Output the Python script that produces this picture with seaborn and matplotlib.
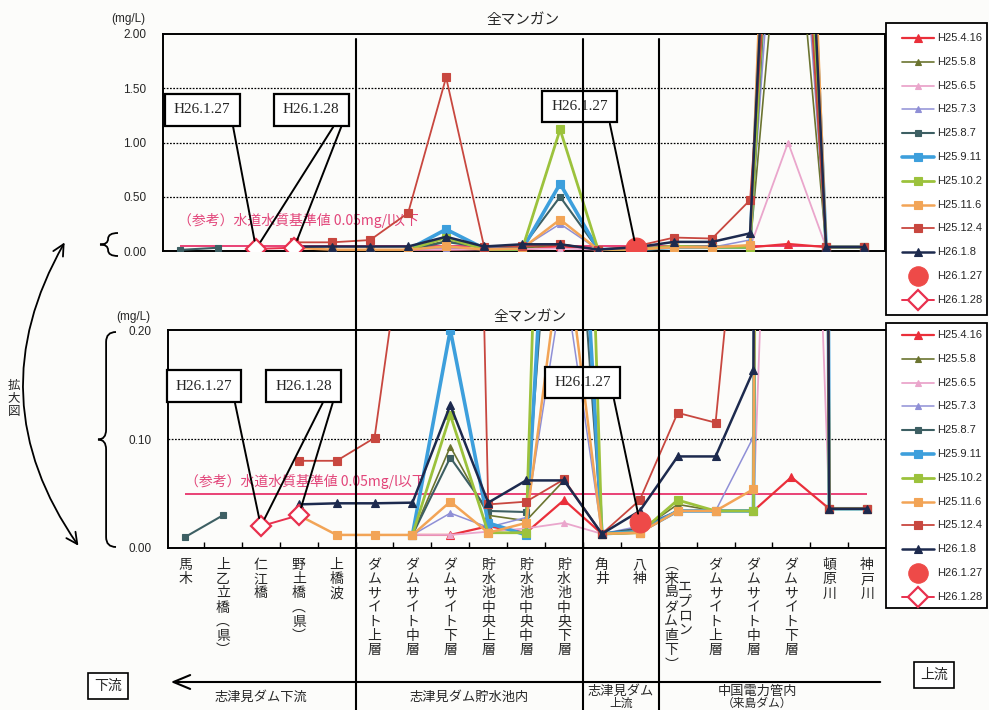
import numpy as np
import pandas as pd
import matplotlib
matplotlib.use("Agg")
import matplotlib.pyplot as plt
import seaborn as sns
from matplotlib.lines import Line2D
from matplotlib.patches import FancyArrowPatch, PathPatch, Rectangle
from matplotlib.path import Path
from matplotlib.ticker import FormatStrFormatter
from matplotlib.transforms import offset_copy

nan = np.nan

# ---- sampling sites (downstream -> upstream) ----
sites = ["馬木", "上乙立橋(県)", "仁江橋", "野土橋(県)", "上橋波",
         "ダムサイト上層", "ダムサイト中層", "ダムサイト下層",
         "貯水池中央上層", "貯水池中央中層", "貯水池中央下層",
         "角井", "八神", "エプロン\n(来島ダム直下)",
         "ダムサイト上層", "ダムサイト中層", "ダムサイト下層",
         "頓原川", "神戸川"]

dates = ["H25.4.16", "H25.5.8", "H25.6.5", "H25.7.3", "H25.8.7", "H25.9.11",
         "H25.10.2", "H25.11.6", "H25.12.4", "H26.1.8", "H26.1.27", "H26.1.28"]

# ---- total manganese (mg/L) per survey date ----
mn_h25_04_16 = [nan, nan, nan, nan, nan, nan, 0.012, 0.012, 0.020, 0.014, 0.044,
                0.013, 0.014, 0.034, 0.034, 0.034, 0.065, 0.036, 0.036]
mn_h25_05_08 = [nan, nan, nan, nan, nan, nan, 0.012, 0.093, 0.030, 0.025, 0.062,
                0.013, 0.016, 0.040, 0.034, 0.034, 4.0, 0.036, 0.036]
mn_h25_06_05 = [nan, nan, nan, nan, nan, nan, 0.012, 0.012, 0.015, 0.018, 0.023,
                0.013, 0.016, 0.034, 0.034, 0.035, 1.0, 0.036, 0.036]
mn_h25_07_03 = [nan, nan, nan, nan, nan, nan, 0.012, 0.032, 0.019, 0.028, 0.25,
                0.013, 0.020, 0.034, 0.034, 0.102, 5.0, 0.036, 0.036]
mn_h25_08_07 = [0.010, 0.030, nan, nan, nan, nan, 0.012, 0.083, 0.034, 0.033, 0.50,
                0.013, 0.018, 0.034, 0.034, 0.034, 6.0, 0.036, 0.036]
mn_h25_09_11 = [nan, nan, nan, nan, nan, nan, 0.012, 0.20, 0.023, 0.012, 0.62,
                0.013, 0.015, 0.034, 0.034, 0.034, 8.0, 0.036, 0.036]
mn_h25_10_02 = [nan, nan, nan, nan, nan, nan, 0.012, 0.122, 0.014, 0.014, 1.12,
                0.013, 0.014, 0.044, 0.034, 0.034, 6.5, 0.036, 0.036]
mn_h25_11_06 = [nan, nan, nan, 0.030, 0.012, 0.012, 0.012, 0.0425, 0.014, 0.023, 0.29,
                0.013, 0.014, 0.034, 0.034, 0.054, 9.0, 0.036, 0.036]
mn_h25_12_04 = [nan, nan, nan, 0.080, 0.080, 0.101, 0.35, 1.60, 0.040, 0.0425, 0.063,
                0.013, 0.044, 0.124, 0.115, 0.47, 5.5, 0.036, 0.036]
mn_h26_01_08 = [nan, nan, nan, 0.040, 0.041, 0.041, 0.0416, 0.131, 0.0416, 0.062, 0.062,
                0.013, 0.034, 0.084, 0.084, 0.163, 7.5, 0.036, 0.036]
mn_h26_01_27 = [nan, nan, nan, nan, nan, nan, nan, nan, nan, nan, nan,
                nan, 0.024, nan, nan, nan, nan, nan, nan]
mn_h26_01_28 = [nan, nan, 0.020, 0.030, nan, nan, nan, nan, nan, nan, nan,
                nan, nan, nan, nan, nan, nan, nan, nan]

standard = 0.05  # drinking-water standard for Mn
standard_label = "（参考）水道水質基準値 0.05mg/l以下"

sections = ["志津見ダム下流", "志津見ダム貯水池内", "志津見ダム\n上流", "中国電力管内\n(来島ダム)"]
section_breaks = [4.5, 10.5, 12.5]
section_centers = [2.0, 7.5, 11.5, 15.1]

series = dict(zip(dates, [mn_h25_04_16, mn_h25_05_08, mn_h25_06_05, mn_h25_07_03,
                          mn_h25_08_07, mn_h25_09_11, mn_h25_10_02, mn_h25_11_06,
                          mn_h25_12_04, mn_h26_01_08, mn_h26_01_27, mn_h26_01_28]))

styles = {
    "H25.4.16": dict(color="#ea2f3a", marker="^", ms=5.5, lw=1.6),
    "H25.5.8":  dict(color="#6b7430", marker="^", ms=5.0, lw=1.2),
    "H25.6.5":  dict(color="#eaa6cc", marker="^", ms=5.0, lw=1.3),
    "H25.7.3":  dict(color="#8f8fd6", marker="^", ms=5.0, lw=1.1),
    "H25.8.7":  dict(color="#3d5f63", marker="s", ms=5.0, lw=1.5),
    "H25.9.11": dict(color="#3d9fdc", marker="s", ms=6.0, lw=2.6),
    "H25.10.2": dict(color="#9cc23c", marker="s", ms=6.0, lw=2.0),
    "H25.11.6": dict(color="#f2a456", marker="s", ms=6.0, lw=1.8),
    "H25.12.4": dict(color="#c8473f", marker="s", ms=6.0, lw=1.3),
    "H26.1.8":  dict(color="#1d2a4e", marker="^", ms=6.0, lw=1.8),
    "H26.1.27": dict(color="#ee4a48", marker="o", ms=15.0, lw=0.0),
    "H26.1.28": dict(color="#e8304e", marker="D", ms=10.0, lw=1.4, mfc="white", mew=1.6),
}

sns.set_theme(style="white")
plt.rcParams["font.family"] = ["Noto Sans CJK JP", "DejaVu Sans"]
plt.rcParams["axes.unicode_minus"] = False

W, H = 989, 710
fig = plt.figure(figsize=(W / 100, H / 100), dpi=100, facecolor="#fcfcfa")


def fx(px):
    return px / W


def fy(py):
    return 1 - py / H


def frac_box(l, t, r, b):
    return [fx(l), fy(b), (r - l) / W, (b - t) / H]


ax_top = fig.add_axes(frac_box(163, 34, 885, 251))
ax_bot = fig.add_axes(frac_box(168, 330, 888, 548))

x_idx = np.arange(len(sites))


def draw_series(ax):
    for k, (name, vals) in enumerate(series.items()):
        st = styles[name]
        df = pd.DataFrame({"x": x_idx, "v": vals})
        df["seg"] = df["v"].isna().cumsum()
        df = df.dropna()
        sns.lineplot(data=df, x="x", y="v", units="seg", estimator=None, ax=ax,
                     color=st["color"], lw=st["lw"], marker=st["marker"],
                     markersize=st["ms"], markerfacecolor=st.get("mfc", st["color"]),
                     markeredgecolor=st["color"], markeredgewidth=st.get("mew", 0.8),
                     legend=False, zorder=3 + 0.1 * k)
    ax.set_xlabel("")
    ax.set_ylabel("")


def style_axes(ax, ymax, step):
    ax.set_xlim(-0.45, 18.55)
    ax.set_ylim(0, ymax)
    ax.set_facecolor("none")
    ticks = np.arange(0, ymax + step / 2, step)
    ax.set_yticks(ticks)
    ax.yaxis.set_major_formatter(FormatStrFormatter("%.2f"))
    ax.tick_params(axis="y", length=0, pad=12, labelsize=8.5)
    for lab in ax.get_yticklabels():
        lab.set_family("Liberation Sans")
    ax.set_xticks([])
    for g in ticks[1:-1]:
        ax.axhline(g, color="black", lw=0.9, ls=(0, (1.4, 1.2)), zorder=1)
    for sp in ax.spines.values():
        sp.set_color("black")
        sp.set_linewidth(1.4)
        sp.set_visible(True)
    ax.hlines(standard, 0, len(sites) - 1, color="#e8336a", lw=1.3, zorder=2.5)


draw_series(ax_top)
draw_series(ax_bot)
style_axes(ax_top, 2.0, 0.5)
style_axes(ax_bot, 0.20, 0.10)
ax_bot.set_xticks(np.arange(0.5, 18, 1), minor=True)
ax_bot.tick_params(axis="x", which="minor", direction="in", length=4, width=1.0,
                   color="black", bottom=True)
ax_bot.xaxis.set_minor_formatter(plt.NullFormatter())

# standard annotation
ax_top.text(-0.05, 0.285, standard_label, color="#e2457a", fontsize=10,
            ha="left", va="center", zorder=2)
ax_bot.text(0.0, 0.061, standard_label, color="#e2457a", fontsize=10,
            ha="left", va="center", zorder=2)

# panel titles and units
fig.text(fx(523), fy(20), "全マンガン", ha="center", va="center", fontsize=10.5)
fig.text(fx(530), fy(317), "全マンガン", ha="center", va="center", fontsize=10.5)
fig.text(fx(128), fy(19), "(mg/L)", ha="center", va="center", fontsize=8.5,
         family="Liberation Sans")
fig.text(fx(133), fy(317), "(mg/L)", ha="center", va="center", fontsize=8.5,
         family="Liberation Sans")


def callout(ax, label, center, targets):
    ax.text(center[0], center[1], label, ha="center", va="center", fontsize=11,
            family="Liberation Serif", zorder=8,
            bbox=dict(boxstyle="square,pad=0.6", fc="white", ec="black", lw=1.6))
    for (tx, ty), dx in targets:
        start = offset_copy(ax.transData, fig=fig, x=dx, y=-17, units="dots")
        ax.annotate("", xy=(tx, ty), xytext=center, textcoords=start,
                    arrowprops=dict(arrowstyle="-", color="black", lw=1.4,
                                    shrinkA=0, shrinkB=6), zorder=7,
                    annotation_clip=False)


callout(ax_top, "H26.1.27", (0.58, 1.30), [((2, mn_h26_01_28[2]), 31)])
callout(ax_top, "H26.1.28", (3.45, 1.30), [((2, mn_h26_01_28[2]), 22), ((3, mn_h26_01_28[3]), 30)])
callout(ax_top, "H26.1.27", (10.52, 1.33), [((12, mn_h26_01_27[12]), 30)])
callout(ax_bot, "H26.1.27", (0.50, 0.1486), [((2, mn_h26_01_28[2]), 31)])
callout(ax_bot, "H26.1.28", (3.13, 0.1486), [((2, mn_h26_01_28[2]), 19), ((3, mn_h26_01_28[3]), 29)])
callout(ax_bot, "H26.1.27", (10.50, 0.152), [((12, mn_h26_01_27[12]), 31)])

# vertical site labels under the lower panel
VERT = {"(": "︵", ")": "︶"}


def stack(s):
    return "\n".join(VERT.get(c, c) for c in s)


xt = ax_bot.get_xaxis_transform()
ax_h = 218.0
for i, name in enumerate(sites):
    if "\n" in name:
        right, left = name.split("\n")
        ax_bot.text(i - 0.17, -10 / ax_h, stack(left), transform=xt, ha="center",
                    va="top", fontsize=10, linespacing=1.02)
        ax_bot.text(i + 0.18, -32 / ax_h, stack(right), transform=xt, ha="center",
                    va="top", fontsize=10, linespacing=1.02)
    else:
        ax_bot.text(i, -10 / ax_h, stack(name), transform=xt, ha="center",
                    va="top", fontsize=10, linespacing=1.02)

# section divider lines running through both panels
for b in section_breaks:
    xpx = ax_bot.transData.transform((b, 0))[0]
    fig.add_artist(Line2D([xpx / W, xpx / W], [fy(39), 0], color="black",
                          lw=1.5, transform=fig.transFigure, zorder=9))

# flow direction arrow and section names
fig.add_artist(FancyArrowPatch((fx(883), fy(682)), (fx(168), fy(682)),
                               transform=fig.transFigure,
                               arrowstyle="->,head_length=12,head_width=5",
                               mutation_scale=1, color="black", lw=1.5))
for c, name in zip(section_centers, sections):
    xpx = ax_bot.transData.transform((c, 0))[0]
    lines = name.split("\n")
    if len(lines) == 1:
        fig.text(xpx / W, fy(697), lines[0], ha="center", va="center", fontsize=9.5)
    else:
        for j, ln in enumerate(lines):
            fig.text(xpx / W, fy(691 + 12 * j),
                     ln.replace("(", "（").replace(")", "）"),
                     ha="center", va="center", fontsize=8.5 if j else 9.5)

fig.text(fx(108), fy(686), "下流", ha="center", va="center", fontsize=10,
         bbox=dict(boxstyle="square,pad=0.45", fc="white", ec="black", lw=1.2))
fig.text(fx(934), fy(675), "上流", ha="center", va="center", fontsize=10,
         bbox=dict(boxstyle="square,pad=0.45", fc="white", ec="black", lw=1.2))


# braces and the "enlarged view" arrow on the left
def brace(x_tip, y_top, y_bot, width, lw=1.3):
    x0 = x_tip
    x1 = x_tip + 0.45 * width
    x2 = x_tip + width
    ym = (y_top + y_bot) / 2
    r = min(0.55 * width, (y_bot - y_top) / 4)
    pts = [(x2, y_top), (x1, y_top), (x1, y_top + r), (x1, ym - r), (x1, ym), (x0, ym),
           (x1, ym), (x1, ym + r), (x1, y_bot - r), (x1, y_bot), (x2, y_bot)]
    codes = [Path.MOVETO, Path.CURVE3, Path.CURVE3, Path.LINETO, Path.CURVE3, Path.CURVE3,
             Path.CURVE3, Path.CURVE3, Path.LINETO, Path.CURVE3, Path.CURVE3]
    verts = [(fx(px), fy(py)) for px, py in pts]
    fig.add_artist(PathPatch(Path(verts, codes), fill=False, ec="black", lw=lw,
                             transform=fig.transFigure))


brace(100, 233, 256, 18)
brace(98, 332, 547, 18)
fig.add_artist(FancyArrowPatch((fx(66), fy(240)), (fx(80), fy(548)),
                               transform=fig.transFigure, connectionstyle="arc3,rad=0.32",
                               arrowstyle="<->,head_length=8,head_width=4",
                               mutation_scale=1, color="black", lw=1.3))
fig.text(fx(14), fy(398), "拡\n大\n図", ha="center", va="center", fontsize=9,
         linespacing=1.0)


# legend panels to the right of each chart
def legend_panel(top_px, bot_px, first_row_px, pitch_px):
    fig.add_artist(Rectangle((fx(886), fy(bot_px)), (987 - 886) / W, (bot_px - top_px) / H,
                             transform=fig.transFigure, fc="white", ec="black", lw=1.3,
                             zorder=5))
    for k, name in enumerate(dates):
        st = styles[name]
        yy = fy(first_row_px + pitch_px * k)
        if st["lw"] > 0:
            fig.add_artist(Line2D([fx(902), fx(934)], [yy, yy], color=st["color"],
                                  lw=st["lw"], transform=fig.transFigure, zorder=6))
        ms = 14 if name == "H26.1.27" else min(st["ms"], 11)
        fig.add_artist(Line2D([fx(918)], [yy], ls="none", marker=st["marker"], ms=ms,
                              mfc=st.get("mfc", st["color"]), mec=st["color"],
                              mew=st.get("mew", 0.8), transform=fig.transFigure, zorder=7))
        fig.text(fx(937), yy, name, ha="left", va="center", fontsize=8,
                 family=["Liberation Sans Narrow", "Liberation Sans"], zorder=7)


legend_panel(23, 315, 38, 23.8)
legend_panel(323, 608, 335, 23.8)

fig.savefig("out.png", dpi=100, facecolor=fig.get_facecolor())
